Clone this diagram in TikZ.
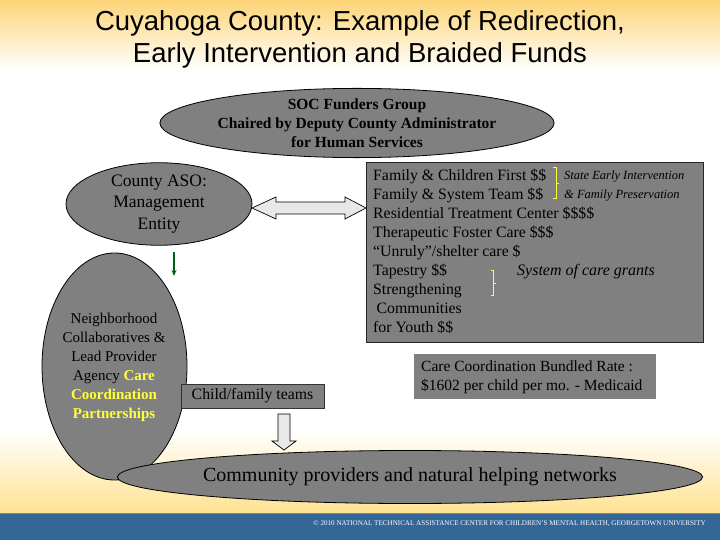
\documentclass[tikz,border=0pt]{standalone}
\usepackage{fontspec}
\setmainfont{Liberation Serif}
\newfontfamily\titlefont{Liberation Sans}
\usetikzlibrary{shapes.geometric,arrows.meta,calc}
\definecolor{boxgray}{RGB}{128,128,128}
\definecolor{topyel}{RGB}{252,212,118}
\definecolor{botyel}{RGB}{255,226,145}
\definecolor{bandblue}{RGB}{52,102,152}
\definecolor{bandline}{RGB}{90,140,190}
\definecolor{hiyel}{RGB}{255,255,60}
\definecolor{dkgreen}{RGB}{0,95,20}
\definecolor{arrowfill}{RGB}{232,232,232}
\tikzset{
  oval/.style={ellipse, draw=black, line width=0.8pt, fill=boxgray, inner sep=0pt, align=center},
  graybox/.style={rectangle, fill=boxgray, inner sep=0pt},
  blockarrow/.style={draw=black, line width=0.7pt, fill=arrowfill},
  brack/.style={draw=hiyel, line width=0.9pt},
  notetxt/.style={anchor=west, inner sep=0pt, font=\itshape\fontsize{12.5}{15}\selectfont},
}
\begin{document}
\begin{tikzpicture}[x=1pt,y=-1pt]
\useasboundingbox (0,0) rectangle (720,540);
% background
\shade[top color=topyel, bottom color=white] (0,0) rectangle (720,70);
\shade[top color=white, bottom color=botyel] (0,430) rectangle (720,513);
\fill[bandblue] (0,513) rectangle (720,540);
\draw[bandline, line width=1pt] (0,513.5) -- (720,513.5);

% title
\node[font=\titlefont\fontsize{27.5}{32}\selectfont, align=center, inner sep=0pt] (title) at (360,39)
  {Cuyahoga County: Example of Redirection,\\Early Intervention and Braided Funds};

% SOC funders
\node[oval, minimum width=381, minimum height=63, font=\bfseries\fontsize{15.5}{19}\selectfont] (soc) at (357,123)
  {SOC Funders Group\\Chaired by Deputy County Administrator\\for Human Services};

% County ASO
\node[oval, minimum width=186, minimum height=82, font=\fontsize{17.5}{21.5}\selectfont] (aso) at (159,204)
  {County ASO:\\Management\\Entity};

% funds box
\node[graybox, draw=black!85, line width=1pt, minimum width=337, minimum height=179] (funds) at (534.5,252.5) {};
\node[anchor=north west, inner sep=0pt, align=left, font=\fontsize{15.8}{19}\selectfont] (fundtxt) at (373,169)
  {Family \& Children First \$\$\\
   Family \& System Team \$\$\\
   Residential Treatment Center \$\$\$\$\\
   Therapeutic Foster Care \$\$\$\\
   “Unruly”/shelter care \$\\
   Tapestry \$\$\\
   Strengthening\\
   \hspace{3.5pt}Communities\\
   for Youth \$\$};
% brackets and notes
\draw[brack] (553,167) -- (556,167) -- (556,198) -- (553,198);
\draw[brack] (556,183) -- (559,183);
\node[notetxt] (n1) at (564,177) {State Early Intervention};
\node[notetxt] (n2) at (564,196) {\& Family Preservation};
\draw[brack] (491,270) -- (493.5,270) -- (493.5,295) -- (491,295);
\draw[brack] (493.5,283) -- (496,283);
\node[notetxt, font=\itshape\fontsize{16}{18}\selectfont] (n3) at (517,272) {System of care grants};

% double arrow between ASO and funds
\draw[blockarrow] (252,208) -- (276,197) -- (276,202) -- (345,202) -- (345,197) -- (366,208)
  -- (345,219) -- (345,214) -- (276,214) -- (276,219) -- cycle;

% green arrow
\coordinate (g1) at (174,252);
\coordinate (g2) at (174,276);
\draw[dkgreen, line width=1.4pt, -{Stealth[length=6pt,width=5pt]}] (g1) -- (g2);

% neighborhood ellipse
\node[oval, minimum width=145, minimum height=227] (nbh) at (114.5,366.5) {};
\node[align=center, inner sep=0pt, font=\fontsize{15}{19}\selectfont] (nbhtxt) at (114,367)
  {Neighborhood\\Collaboratives \&\\Lead Provider\\Agency \textcolor{hiyel}{\bfseries Care}\\
   \textcolor{hiyel}{\bfseries Coordination}\\\textcolor{hiyel}{\bfseries Partnerships}};

% care coordination box
\node[graybox, minimum width=242, minimum height=45] (care) at (535,376.5) {};
\node[anchor=west, align=left, inner sep=0pt, font=\fontsize{15.5}{19}\selectfont] (caretxt) at (421,377)
  {Care Coordination Bundled Rate :\\\$1602 per child per mo. - Medicaid};

% child/family teams
\node[graybox, draw=black!80, line width=0.8pt, minimum width=143, minimum height=24, font=\fontsize{15.8}{17}\selectfont] (cft) at (252.5,396)
  {Child/family teams};

% down block arrow
\draw[blockarrow] (278,414) -- (290,414) -- (290,441) -- (296,441) -- (284,450) -- (272,441) -- (278,441) -- cycle;

% community ellipse
\node[oval, minimum width=520, minimum height=53, font=\fontsize{20}{22}\selectfont] (comm) at (410,477)
  {\raisebox{-5pt}{Community providers and natural helping networks}};

% footer
\node[anchor=east, inner sep=0pt, text=white, font=\fontsize{7.1}{8}\selectfont] (foot) at (706,524)
  {© 2010 NATIONAL TECHNICAL ASSISTANCE CENTER FOR CHILDREN'S MENTAL HEALTH, GEORGETOWN UNIVERSITY};
\end{tikzpicture}
\end{document}
